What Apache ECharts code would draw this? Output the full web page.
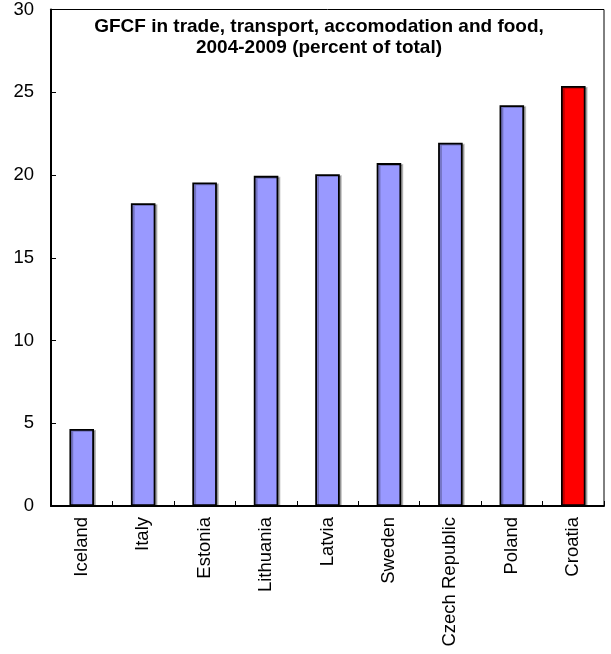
<!DOCTYPE html>
<html>
<head>
<meta charset="utf-8">
<script src="https://cdn.jsdelivr.net/npm/echarts@6/dist/echarts.min.js"></script>
<style>
html,body{margin:0;padding:0;background:#fff;}
#c{width:611px;height:654px;}
</style>
</head>
<body>
<div id="c"></div>
<script>
const categories = ["Iceland","Italy","Estonia","Lithuania","Latvia","Sweden","Czech Republic","Poland","Croatia"];
const values = [4.66, 18.3, 19.55, 19.95, 20.05, 20.72, 21.95, 24.22, 25.38];
const highlight = "Croatia";
const titleText = "GFCF in trade, transport, accomodation and food,\n2004-2009 (percent of total)";

const font = "'Liberation Sans', Arial, sans-serif";
const chart = echarts.init(document.getElementById('c'), null, {renderer:'canvas'});
chart.setOption({
  animation:false,
  backgroundColor:'#fff',
  title:{
    text:titleText,
    left:314, top:11, textAlign:'center',
    textStyle:{fontFamily:font, fontSize:19, fontWeight:'bold', color:'#000', lineHeight:21}
  },
  grid:{left:51, right:7, top:7, bottom:148, show:true, borderColor:'#000', borderWidth:1, containLabel:false},
  xAxis:{
    type:'category', data:categories,
    axisLine:{lineStyle:{color:'#000', width:2}},
    axisTick:{show:true, inside:true, length:5, alignWithLabel:false, lineStyle:{color:'#000'}},
    axisLabel:{rotate:90, margin:11, fontFamily:font, fontSize:18.5, color:'#000', interval:0}
  },
  yAxis:{
    type:'value', min:0, max:30, interval:5,
    splitLine:{show:false},
    axisLine:{show:true, lineStyle:{color:'#000', width:2}},
    axisTick:{show:true, inside:true, length:5, lineStyle:{color:'#000'}},
    axisLabel:{margin:17, fontFamily:font, fontSize:18.5, color:'#000'}
  },
  series:[{
    type:'bar', barWidth:'40%',
    data:values.map((v,i)=>({value:v, itemStyle:{color: categories[i]===highlight ? '#FF0000' : '#9999FF'}})),
    itemStyle:{borderColor:'#000', borderWidth:1.8, shadowColor:'rgba(0,0,0,0.25)', shadowOffsetX:2, shadowOffsetY:1}
  }]
});
</script>
</body>
</html>
